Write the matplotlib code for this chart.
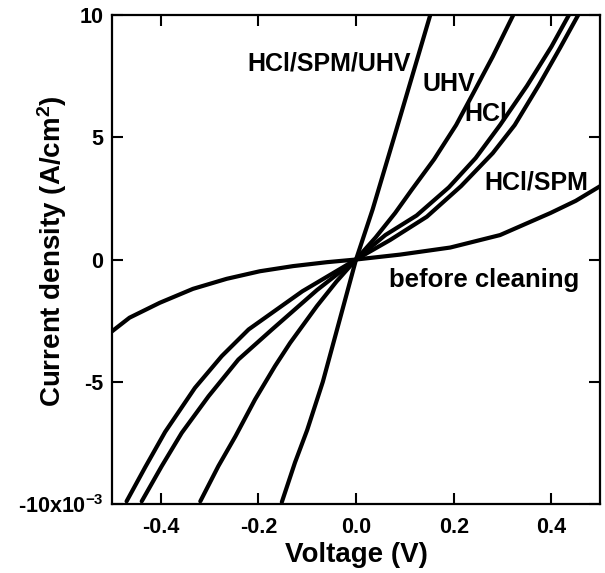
import matplotlib.pyplot as plt
import numpy as np

plt.rcParams['font.family'] = ['Liberation Sans', 'DejaVu Sans']
plt.rcParams['font.weight'] = 'bold'
plt.rcParams['mathtext.fontset'] = 'custom'
plt.rcParams['mathtext.rm'] = 'Liberation Sans:bold'
plt.rcParams['mathtext.it'] = 'Liberation Sans:bold'
plt.rcParams['mathtext.bf'] = 'Liberation Sans:bold'
plt.rcParams['mathtext.default'] = 'rm'

# --- datos (J en unidades de 1e-3 A/cm2) ---
v_hcl_spm_uhv = [-0.152, -0.125, -0.100, -0.068, -0.039, 0.0, 0.034, 0.078, 0.115, 0.152]
j_hcl_spm_uhv = [-9.92, -8.3, -6.97, -5.0, -2.87, 0.0, 2.05, 5.0, 7.5, 10.0]

v_uhv = [-0.319, -0.282, -0.247, -0.207, -0.166, -0.135, -0.080, -0.040, 0.0,
         0.040, 0.080, 0.114, 0.160, 0.205, 0.240, 0.280, 0.322]
j_uhv = [-9.89, -8.45, -7.23, -5.73, -4.36, -3.41, -1.9, -0.9, 0.0,
         0.9, 1.9, 2.85, 4.1, 5.5, 6.8, 8.3, 10.0]

v_hcl = [-0.439, -0.398, -0.357, -0.302, -0.241, -0.172, -0.080, 0.0,
         0.060, 0.124, 0.190, 0.245, 0.295, 0.350, 0.400, 0.436]
j_hcl = [-9.89, -8.45, -7.09, -5.59, -4.09, -2.86, -1.25, 0.0,
         1.0, 1.8, 2.95, 4.15, 5.5, 7.1, 8.7, 10.0]

v_hcl_spm = [-0.470, -0.432, -0.391, -0.330, -0.275, -0.220, -0.110, 0.0,
             0.070, 0.145, 0.215, 0.280, 0.325, 0.375, 0.418, 0.455]
j_hcl_spm = [-9.89, -8.5, -7.05, -5.25, -3.95, -2.86, -1.3, 0.0,
             0.8, 1.75, 3.0, 4.35, 5.5, 7.15, 8.66, 10.0]

v_before = [-0.500, -0.464, -0.402, -0.334, -0.265, -0.197, -0.129, -0.060, 0.0,
            0.090, 0.193, 0.295, 0.398, 0.450, 0.500]
j_before = [-2.94, -2.38, -1.77, -1.20, -0.79, -0.48, -0.27, -0.11, 0.0,
            0.20, 0.49, 1.0, 1.9, 2.4, 3.0]

x_ticks = [-0.4, -0.2, 0.0, 0.2, 0.4]
x_ticklabels = ['-0.4', '-0.2', '0.0', '0.2', '0.4']
y_ticks = [-10, -5, 0, 5, 10]
y_ticklabels = [r'-10x10$^{-3}$', '-5', '0', '5', '10']

fig = plt.figure(figsize=(6.05, 5.73), dpi=100)
ax = fig.add_axes([0.185, 0.1204, 0.807, 0.8534])

for v, j in [(v_hcl_spm_uhv, j_hcl_spm_uhv), (v_uhv, j_uhv), (v_hcl, j_hcl),
             (v_hcl_spm, j_hcl_spm), (v_before, j_before)]:
    ax.plot(v, j, color='black', linewidth=3.0, solid_capstyle='round',
            solid_joinstyle='round')

ax.set_xlim(-0.5, 0.5)
ax.set_ylim(-10, 10)
ax.set_xticks(x_ticks)
ax.set_xticklabels(x_ticklabels)
ax.set_yticks(y_ticks)
ax.set_yticklabels(y_ticklabels)
ax.tick_params(direction='in', length=8, width=1.5, top=True, right=True,
               labelsize=15.5, pad=6)
ax.tick_params(axis='x', pad=9)
for s in ax.spines.values():
    s.set_linewidth(1.6)

ax.set_xlabel('Voltage (V)', fontsize=20, fontweight='bold', labelpad=3)
# etiqueta Y colocada a mano (el tick -10x10^-3 la empujaria hacia fuera)
fig.text(52 / 605, 1 - 251 / 573, r'Current density (A/cm$^2$)', rotation=90,
         fontsize=20, fontweight='bold', ha='center', va='center')

# etiquetas de las curvas
lab = dict(fontsize=18, fontweight='bold', ha='center', va='center',
           family=['Liberation Sans Narrow', 'Liberation Sans'])
ax.text(-0.055, 8.0, 'HCl/SPM/UHV', **lab)
ax.text(0.189, 7.17, 'UHV', **lab)
ax.text(0.265, 5.94, 'HCl', **lab)
ax.text(0.369, 3.16, 'HCl/SPM', **lab)
ax.text(0.262, -0.82, 'before cleaning', **dict(lab, fontsize=18.5))

fig.savefig('out.png', dpi=100)
